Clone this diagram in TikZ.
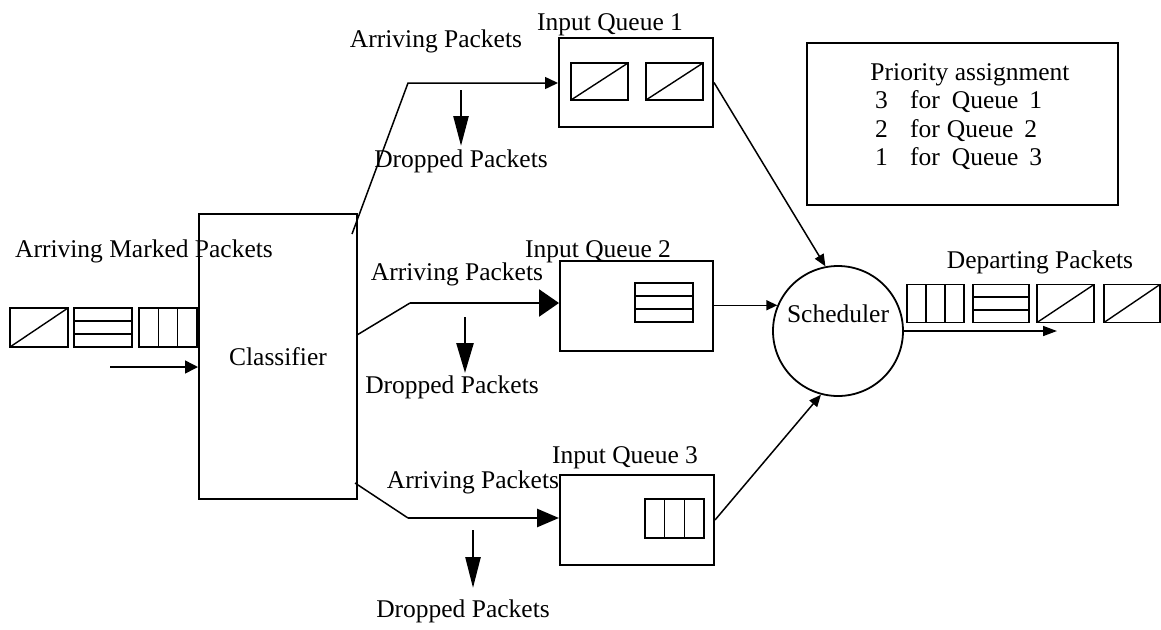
\documentclass[tikz,border=0pt]{standalone}
\usepackage{fontspec}
\setmainfont{Liberation Serif}
\usetikzlibrary{arrows.meta,calc}
\begin{document}
\begin{tikzpicture}[x=1pt,y=-1pt,
  every node/.style={font=\fontsize{25.5}{30}\selectfont, inner sep=0pt},
  lbl/.style={anchor=base},
  box/.style={draw, line width=2pt, inner sep=0pt},
  conn/.style={line width=1.5pt},
  heavy/.style={line width=2.6pt},
  pkt/.style={draw, line width=1.8pt, minimum width=57pt, minimum height=38pt, inner sep=0pt},
  pktslash/.style={pkt, path picture={\draw[line width=1.4pt]
      (path picture bounding box.south west) -- (path picture bounding box.north east);}},
  pktrows/.style={pkt, path picture={
      \draw[line width=1.4pt] ($(path picture bounding box.south west)!0.3333!(path picture bounding box.north west)$) -- ++(60pt,0pt);
      \draw[line width=1.4pt] ($(path picture bounding box.south west)!0.6667!(path picture bounding box.north west)$) -- ++(60pt,0pt);}},
  pktcols/.style={pkt, path picture={
      \draw[line width=1.4pt] ($(path picture bounding box.south west)!0.3333!(path picture bounding box.south east)$) -- ($(path picture bounding box.north west)!0.3333!(path picture bounding box.north east)$);
      \draw[line width=1.4pt] ($(path picture bounding box.south west)!0.6667!(path picture bounding box.south east)$) -- ($(path picture bounding box.north west)!0.6667!(path picture bounding box.north east)$);}},
  tipsmall/.style={-{Triangle[length=13pt,width=12pt]}},
  tipdrop/.style={-{Triangle[length=30pt,width=15pt]}},
  prioline/.style={anchor=base west},
]
\useasboundingbox (0,0) rectangle (1161,629);

% ---------- incoming marked packets ----------
\node[lbl] (inlbl) at (144,257) {Arriving Marked Packets};
\node[pktslash, minimum width=58pt, minimum height=39pt] (ip1) at (39,327.5) {};
\node[pktrows,  minimum width=58pt, minimum height=39pt] (ip2) at (103,327.5) {};
\node[pktcols,  minimum width=58pt, minimum height=39pt] (ip3) at (168,327.5) {};
\coordinate (inS) at (110,367);

% ---------- classifier ----------
\node[box, minimum width=158pt, minimum height=285pt] (cls) at (278,356.5) {Classifier};
\draw[conn, -{Triangle[length=13pt,width=13pt]}] (inS) -- (inS -| cls.west);

% ---------- input queues ----------
\node[box, minimum width=154pt, minimum height=89pt] (q1) at (636,82.5) {};
\node[box, minimum width=153pt, minimum height=90pt] (q2) at (636.5,306) {};
\node[box, minimum width=154pt, minimum height=90pt] (q3) at (637,520) {};
\node[lbl] (q1lbl) at (610,30) {Input Queue 1};
\node[lbl] (q2lbl) at (598,257) {Input Queue 2};
\node[lbl] (q3lbl) at (625,463) {Input Queue 3};

\node[pktslash, minimum height=37pt] (q1a) at (599.5,81.5) {};
\node[pktslash, minimum height=37pt] (q1b) at (674.5,81.5) {};
\node[pktrows, minimum width=58pt, minimum height=39pt] (q2a) at (664,302.5) {};
\node[pktcols, minimum width=59pt, minimum height=39pt] (q3a) at (674.5,518.5) {};

% ---------- branches from the classifier ----------
\coordinate (b1s) at (352,234);
\coordinate (b1k) at (408,83);
\draw[conn, tipsmall] (b1s) -- (b1k) -- (b1k -| q1.west);
\node[lbl] (arr1) at (436,47) {Arriving Packets};
\coordinate (d1s) at (461,90);
\coordinate (d1e) at (461,146);
\draw[heavy, tipdrop] (d1s) -- (d1e);
\node[lbl] (drop1) at (461,167) {Dropped Packets};

\coordinate (b2s) at (357,335);
\coordinate (b2k) at (410,303);
\draw[conn] (b2s) -- (b2k);
\draw[heavy, -{Triangle[length=20pt,width=27pt]}] (b2k) -- (b2k -| q2.west);
\node[lbl] (arr2) at (457,280) {Arriving Packets};
\coordinate (d2s) at (465,317);
\coordinate (d2e) at (465,373);
\draw[heavy, -{Triangle[length=30pt,width=17pt]}] (d2s) -- (d2e);
\node[lbl] (drop2) at (452,393) {Dropped Packets};

\coordinate (b3s) at (355,483);
\coordinate (b3k) at (408,518);
\draw[conn] (b3s) -- (b3k);
\draw[heavy, -{Triangle[length=22pt,width=18pt]}] (b3k) -- (b3k -| q3.west);
\node[lbl] (arr3) at (473,488) {Arriving Packets};
\coordinate (d3s) at (473,530);
\coordinate (d3e) at (473,588);
\draw[heavy, -{Triangle[length=31pt,width=15pt]}] (d3s) -- (d3e);
\node[lbl] (drop3) at (463,617) {Dropped Packets};

% ---------- scheduler ----------
\node[draw, circle, line width=1.8pt, minimum size=130pt] (sch) at (838,331) {};
\node[lbl] (schlbl) at (838,322) {Scheduler};
\draw[conn, -{Triangle[length=12pt,width=10pt]}] (q1.east) -- (sch.101);
\draw[conn, -{Triangle[length=11pt,width=10pt]}] (q2.east |- sch.157) -- (sch.157);
\draw[conn, -{Triangle[length=12pt,width=10pt]}] (q3.east) -- (sch.255);

% ---------- departing packets ----------
\node[lbl] (outlbl) at (1040,268) {Departing Packets};
\node[pktcols] (op1) at (935.5,303.5) {};
\node[pktrows, minimum width=56pt] (op2) at (1001,303.5) {};
\node[pktslash] (op3) at (1065.5,303.5) {};
\node[pktslash, minimum width=56pt] (op4) at (1132,303.5) {};
\coordinate (outE) at (1057,331);
\draw[conn, -{Triangle[length=14pt,width=10pt]}] (sch.east |- outE) -- (outE);

% ---------- priority table ----------
\node[box, minimum width=311pt, minimum height=162pt] (prio) at (962.5,124) {};
\node[lbl] (pr0) at (970,80) {Priority assignment};
\node[prioline] (pr1) at (875,108) {\makebox[35pt][l]{3}for\hspace{12pt}Queue\hspace{11pt}1};
\node[prioline] (pr2) at (875,137) {\makebox[35pt][l]{2}for\hspace{7pt}Queue\hspace{11pt}2};
\node[prioline] (pr3) at (875,165) {\makebox[35pt][l]{1}for\hspace{12pt}Queue\hspace{11pt}3};
\end{tikzpicture}
\end{document}
